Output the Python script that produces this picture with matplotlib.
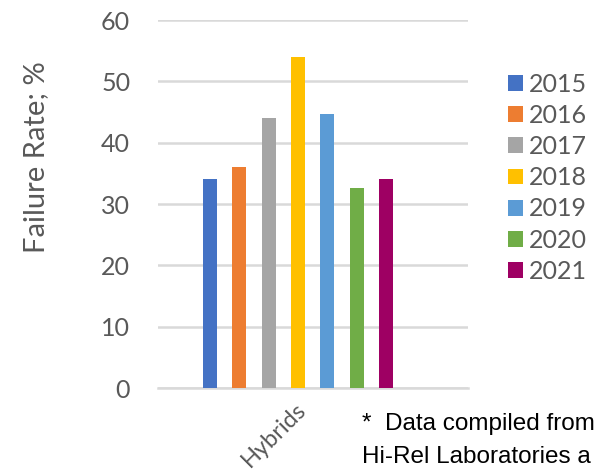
import numpy as np
import matplotlib.pyplot as plt

years = ["2015", "2016", "2017", "2018", "2019", "2020", "2021"]
failure_rate = [34.1, 36.0, 44.0, 54.0, 44.7, 32.6, 34.1]
category = "Hybrids"
colors = ["#4472C4", "#ED7D31", "#A5A5A5", "#FFC000", "#5B9BD5", "#70AD47", "#9E0063"]

text_gray = "#595959"
grid_gray = "#D9D9D9"

fig = plt.figure(figsize=(6.04, 4.74), dpi=100)
ax = fig.add_axes([0.2616, 0.1814, 0.5132, 0.7764])

x = np.arange(len(years))
for i, (yr, val, col) in enumerate(zip(years, failure_rate, colors)):
    ax.bar(x[i], val, width=0.48, color=col, label=yr, zorder=3)

ax.set_xlim(-1.77, 8.8)
ax.set_ylim(0, 60)
ax.set_yticks(range(0, 61, 10))
ax.yaxis.grid(True, color=grid_gray, linewidth=1.8, zorder=0)
for s in ["top", "right", "left"]:
    ax.spines[s].set_visible(False)
ax.spines["bottom"].set_color(grid_gray)
ax.spines["bottom"].set_linewidth(1.8)
ax.tick_params(axis="y", length=0, labelsize=18, labelcolor=text_gray, pad=20)
for lbl in ax.get_yticklabels():
    lbl.set_fontfamily("Lato")

# single category label, slanted like a spreadsheet axis
ax.set_xticks([2.9])
ax.set_xticklabels([category], rotation=45, ha="right", va="top",
                   rotation_mode="anchor", fontsize=17, fontfamily="Lato")
ax.tick_params(axis="x", length=0, labelcolor=text_gray, pad=8)

fig.text(0.0596, 0.669, "Failure Rate; %", rotation=90, ha="center", va="center",
         fontsize=21, color=text_gray, fontfamily="Lato")

ax.legend(loc="center left", bbox_to_anchor=(0.841, 0.625),
          bbox_transform=fig.transFigure, frameon=False,
          prop={"family": "Lato", "size": 18}, labelcolor=text_gray,
          handlelength=0.6, handleheight=0.6, handletextpad=0.25,
          labelspacing=0.33, borderpad=0, borderaxespad=0)

fig.text(0.599, 1 - 430 / 474, "*  Data compiled from", fontsize=17.5,
         fontfamily="Liberation Sans", color="black", va="baseline", ha="left")
fig.text(0.599, 1 - 463 / 474, "Hi-Rel Laboratories a", fontsize=17.5,
         fontfamily="Liberation Sans", color="black", va="baseline", ha="left")

fig.savefig("out.png", dpi=100)
